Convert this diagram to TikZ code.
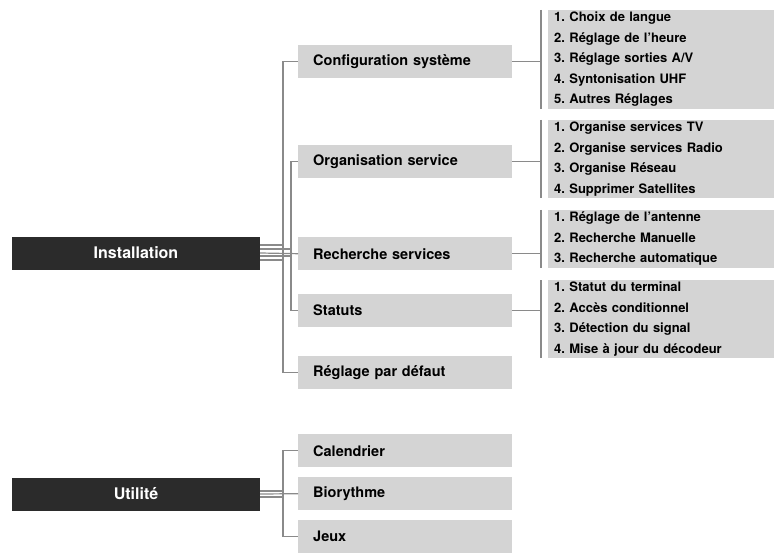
\documentclass[tikz,border=0pt]{standalone}
\usepackage{fontspec}
\setmainfont{TeX Gyre Heros}
\usetikzlibrary{positioning}
\frenchspacing
\definecolor{boxgray}{HTML}{D4D4D4}
\definecolor{darkbox}{HTML}{2B2B2B}
\definecolor{linegray}{HTML}{8A8A8A}
\tikzset{
  mainbox/.style={fill=darkbox,text=white,font=\bfseries\fontsize{16}{19}\selectfont,minimum width=248pt,minimum height=33pt,inner sep=0pt},
  subbox/.style={fill=boxgray,font=\bfseries\fontsize{14.5}{17}\selectfont,minimum width=214pt,minimum height=33pt,anchor=north west,text width=184pt,inner xsep=15pt,inner ysep=0pt,align=left},
  listbox/.style={fill=boxgray,font=\bfseries\fontsize{13}{20.5}\selectfont,minimum width=226pt,anchor=north west,text width=214pt,inner xsep=6pt,inner ysep=2pt,align=left},
  link/.style={draw=linegray,line width=1.2pt}
}
\begin{document}
\begin{tikzpicture}[x=1pt,y=-1pt]
\useasboundingbox (0,0) rectangle (784,556);
% Main entries
\node[mainbox] (inst) at (136,253) {Installation};
\node[mainbox] (util) at (136,494) {Utilité};

% Level two
\node[subbox] (conf) at (298,45) {Configuration système};
\node[subbox] (orga) at (298,145) {Organisation service};
\node[subbox] (rech) at (298,237) {Recherche services};
\node[subbox] (stat) at (298,294) {Statuts};
\node[subbox] (defa) at (298,356) {Réglage par défaut};
\node[subbox] (cale) at (298,434) {Calendrier};
\node[subbox] (bior) at (298,477) {Biorythme};
\node[subbox] (jeux) at (298,520) {Jeux};

% Level three
\node[listbox] (lconf) at (548,10) {1. Choix de langue\\2. Réglage de l'heure\\3. Réglage sorties A/V\\4. Syntonisation UHF\\5. Autres Réglages};
\node[listbox] (lorga) at (548,120) {1. Organise services TV\\2. Organise services Radio\\3. Organise Réseau\\4. Supprimer Satellites};
\node[listbox] (lrech) at (548,210) {1. Réglage de l'antenne\\2. Recherche Manuelle\\3. Recherche automatique};
\node[listbox] (lstat) at (548,280) {1. Statut du terminal\\2. Accès conditionnel\\3. Détection du signal\\4. Mise à jour du décodeur};

% Links from Installation
\draw[link] ([yshift=-7pt]inst.east) -| (283,0 |- conf.west) -- (conf.west);
\draw[link] ([yshift=-3pt]inst.east) -| (291,0 |- orga.west) -- (orga.west);
\draw[link] (inst.east) -- (rech.west);
\draw[link] ([yshift=4pt]inst.east) -| (291,0 |- stat.west) -- (stat.west);
\draw[link] ([yshift=8pt]inst.east) -| (283,0 |- defa.west) -- (defa.west);

% Links from Utilite
\draw[link] ([yshift=-3pt]util.east) -| (283,0 |- cale.west) -- (cale.west);
\draw[link] (util.east) -- (bior.west);
\draw[link] ([yshift=3pt]util.east) -| (283,0 |- jeux.west) -- (jeux.west);

% Brackets to lists
\foreach \a/\b in {conf/lconf,orga/lorga,rech/lrech,stat/lstat}{
  \draw[link] (\a.east) -- (541,0 |- \a.east);
  \draw[link] (541,0 |- \b.north west) -- (541,0 |- \b.south west);
}
\end{tikzpicture}
\end{document}
